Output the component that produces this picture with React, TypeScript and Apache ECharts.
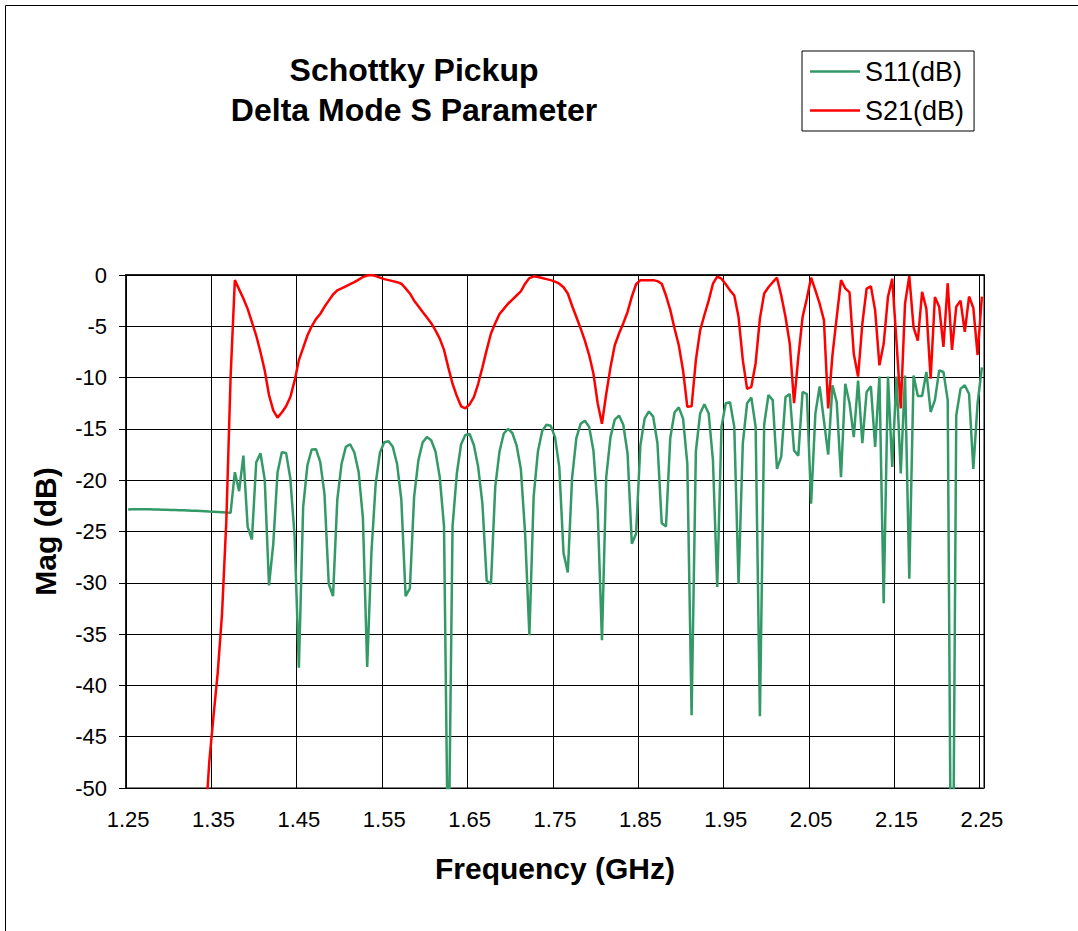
import React, { useEffect, useRef } from "react";
import * as echarts from "echarts";

// Sweep definition (Excel category axis: 201 points, 1.25 .. 2.25 GHz)
const FREQ_START = 1.25;
const FREQ_STEP = 0.005;
const POINT_COUNT = 201;
const FREQUENCIES: string[] = Array.from({ length: POINT_COUNT }, (_, i) =>
  (FREQ_START + i * FREQ_STEP).toFixed(3)
);

const TITLE_LINES = ["Schottky Pickup", "Delta Mode S Parameter"];
const SERIES_NAMES = ["S11(dB)", "S21(dB)"];
const X_TITLE = "Frequency (GHz)";
const Y_TITLE = "Mag (dB)";
const Y_MIN = -50;
const Y_MAX = 0;
const Y_STEP = 5;
const X_LABEL_EVERY = 20;

const S11_DB: number[] = [
  -22.85, -22.83, -22.82, -22.82, -22.83, -22.84, -22.85, -22.86, -22.87, -22.88,
  -22.9, -22.9, -22.92, -22.93, -22.95, -22.97, -22.98, -23.0, -23.02, -23.05,
  -23.07, -23.1, -23.13, -23.16, -23.18, -19.22, -21.07, -17.6, -24.55, -25.78,
  -18.28, -17.37, -19.94, -30.26, -26.2, -19.25, -17.27, -17.34, -19.84, -25.5,
  -38.28, -22.66, -18.54, -17.01, -16.98, -18.21, -21.36, -30.1, -31.3, -21.9,
  -18.4, -16.75, -16.5, -17.3, -19.2, -23.7, -38.2, -27.0, -20.3, -17.3,
  -16.3, -16.2, -16.75, -18.4, -21.9, -31.3, -30.55, -21.6, -18.05, -16.3,
  -15.8, -16.1, -17.2, -19.7, -24.5, -60.0, -24.5, -19.35, -16.5, -15.6,
  -15.5, -16.6, -18.7, -22.3, -29.8, -30.1, -20.65, -17.2, -15.45, -15.0,
  -15.4, -16.6, -18.9, -25.2, -35.1, -21.6, -17.2, -15.2, -14.6, -14.7,
  -15.8, -18.7, -27.1, -29.0, -19.8, -15.9, -14.5, -14.2, -14.8, -17.1,
  -22.9, -35.6, -19.7, -15.8, -14.1, -13.7, -14.6, -17.4, -26.2, -25.2,
  -16.6, -14.0, -13.3, -13.8, -16.4, -24.2, -24.5, -15.9, -13.4, -12.9,
  -14.0, -18.4, -42.9, -17.2, -13.5, -12.6, -13.5, -18.05, -30.4, -14.8,
  -12.5, -12.4, -14.8, -30.1, -16.4, -12.5, -11.95, -14.8, -43.0, -14.6,
  -11.7, -12.2, -18.9, -17.7, -11.9, -11.6, -17.1, -17.6, -11.4, -11.6,
  -22.3, -13.5, -10.85, -14.2, -17.5, -10.75, -12.4, -19.7, -10.6, -12.5,
  -15.8, -10.3, -16.4, -11.4, -10.85, -16.75, -9.9, -32.0, -9.9, -18.7,
  -9.9, -19.35, -9.8, -29.6, -9.8, -11.8, -11.8, -9.45, -13.35, -12.2,
  -9.3, -9.45, -12.2, -75.0, -13.7, -11.1, -10.75, -11.6, -18.9, -12.5,
  -9.0,
];

const S21_DB: (number | null)[] = [
  null, null, null, null, null, null, null, null, null, null,
  null, null, null, null, null, null, null, null, -54.0, -47.5,
  -43.0, -38.7, -33.0, -24.0, -10.0, -0.5, -1.4, -2.3, -3.3, -4.6,
  -5.9, -7.5, -9.3, -11.7, -13.2, -13.9, -13.4, -12.8, -11.9, -10.3,
  -8.3, -7.1, -5.9, -5.0, -4.3, -3.8, -3.1, -2.5, -1.9, -1.5,
  -1.3, -1.1, -0.9, -0.7, -0.45, -0.2, -0.05, 0.0, -0.1, -0.26,
  -0.4, -0.5, -0.6, -0.7, -0.85, -1.3, -1.8, -2.5, -3.05, -3.6,
  -4.15, -4.7, -5.4, -6.2, -7.3, -9.0, -10.6, -11.8, -12.8, -13.0,
  -12.6, -11.9, -10.6, -9.0, -7.3, -5.7, -4.7, -3.8, -3.3, -2.8,
  -2.4, -2.0, -1.6, -0.85, -0.3, -0.13, -0.2, -0.3, -0.4, -0.5,
  -0.65, -0.85, -1.2, -1.8, -3.0, -4.1, -5.2, -6.4, -7.8, -9.6,
  -12.5, -14.5, -11.6, -9.0, -6.85, -5.7, -4.7, -3.6, -2.1, -0.9,
  -0.5, -0.5, -0.5, -0.5, -0.6, -0.85, -2.0, -3.4, -5.2, -6.85,
  -9.3, -12.85, -12.8, -8.3, -5.4, -3.9, -2.5, -0.85, -0.15, -0.36,
  -0.9, -1.5, -2.0, -4.1, -8.3, -11.1, -10.9, -8.6, -4.25, -1.8,
  -1.2, -0.7, -0.26, -2.0, -4.1, -6.7, -12.5, -8.0, -4.1, -2.3,
  -0.26, -1.5, -2.8, -4.4, -13.0, -7.8, -4.1, -0.5, -1.3, -1.7,
  -7.7, -9.9, -4.75, -1.33, -1.1, -3.45, -8.8, -6.7, -2.15, -0.36,
  -6.5, -13.0, -2.8, -0.1, -5.1, -6.4, -1.65, -3.3, -10.1, -2.15,
  -3.1, -7.0, -0.8, -7.3, -3.1, -2.5, -5.55, -2.1, -3.2, -7.8,
  -2.1,
];

const FONT = "'Liberation Sans', Arial, Helvetica, sans-serif";
const GREEN = "#339966";
const RED = "#ff0000";

export default function App() {
  const ref = useRef<HTMLDivElement>(null);

  useEffect(() => {
    if (!ref.current) return;
    const chart = echarts.init(ref.current, null, { renderer: "svg" });
    const option: any = {
      animation: false,
      backgroundColor: "#ffffff",
      textStyle: { fontFamily: FONT, color: "#000" },
      title: {
        text: TITLE_LINES.join("\n"),
        left: 409,
        top: 45,
        textAlign: "center",
        textStyle: {
          fontFamily: FONT,
          fontSize: 32,
          fontWeight: "bold",
          color: "#000",
          lineHeight: 40,
        },
      },
      legend: {
        data: SERIES_NAMES,
        orient: "vertical",
        left: 802,
        top: 51,
        padding: [7, 10, 7, 8],
        itemGap: 12,
        itemWidth: 50,
        itemHeight: 2.5,
        icon: "rect",
        borderColor: "#000",
        borderWidth: 1,
        backgroundColor: "#fff",
        textStyle: { fontFamily: FONT, fontSize: 27, color: "#000" },
      },
      grid: {
        left: 126,
        top: 275,
        right: 94,
        bottom: 143,
        show: true,
        borderColor: "#808080",
        borderWidth: 2,
        backgroundColor: "transparent",
      },
      xAxis: {
        type: "category",
        data: FREQUENCIES,
        boundaryGap: true,
        axisLine: { lineStyle: { color: "#000", width: 1.5 } },
        axisTick: {
          show: true,
          interval: X_LABEL_EVERY - 1,
          length: 6,
          lineStyle: { color: "#000" },
        },
        axisLabel: {
          interval: X_LABEL_EVERY - 1,
          formatter: (v: string) => Number(v).toFixed(2),
          fontFamily: FONT,
          fontSize: 22,
          color: "#000",
          margin: 20,
        },
        splitLine: {
          show: true,
          interval: X_LABEL_EVERY - 1,
          lineStyle: { color: "#000", width: 1 },
        },
        name: X_TITLE,
        nameLocation: "middle",
        nameGap: 65,
        nameTextStyle: { fontFamily: FONT, fontSize: 30, fontWeight: "bold", color: "#000" },
      },
      yAxis: {
        type: "value",
        min: Y_MIN,
        max: Y_MAX,
        interval: Y_STEP,
        axisLine: { show: true, lineStyle: { color: "#000", width: 1.5 } },
        axisTick: { show: true, length: 7, lineStyle: { color: "#000" } },
        axisLabel: { fontFamily: FONT, fontSize: 22, color: "#000", margin: 19 },
        splitLine: { show: true, lineStyle: { color: "#000", width: 1 } },
        name: Y_TITLE,
        nameLocation: "middle",
        nameGap: 66,
        nameRotate: 90,
        nameTextStyle: { fontFamily: FONT, fontSize: 30, fontWeight: "bold", color: "#000" },
      },
      series: [
        {
          name: SERIES_NAMES[0],
          type: "line",
          data: S11_DB,
          symbol: "none",
          clip: true,
          lineStyle: { color: GREEN, width: 2.5 },
          itemStyle: { color: GREEN },
        },
        {
          name: SERIES_NAMES[1],
          type: "line",
          data: S21_DB,
          symbol: "none",
          clip: true,
          lineStyle: { color: RED, width: 2.5 },
          itemStyle: { color: RED },
        },
      ],
      graphic: [
        {
          type: "rect",
          silent: true,
          z: -10,
          shape: { x: 5.5, y: 5.5, width: 1100, height: 1000 },
          style: { fill: "none", stroke: "#000", lineWidth: 1 },
        },
      ],
    };
    chart.setOption(option);
    return () => chart.dispose();
  }, []);

  return (
    <div
      ref={ref}
      style={{ position: "fixed", left: 0, top: 0, width: 1078, height: 931, background: "#fff" }}
    />
  );
}
